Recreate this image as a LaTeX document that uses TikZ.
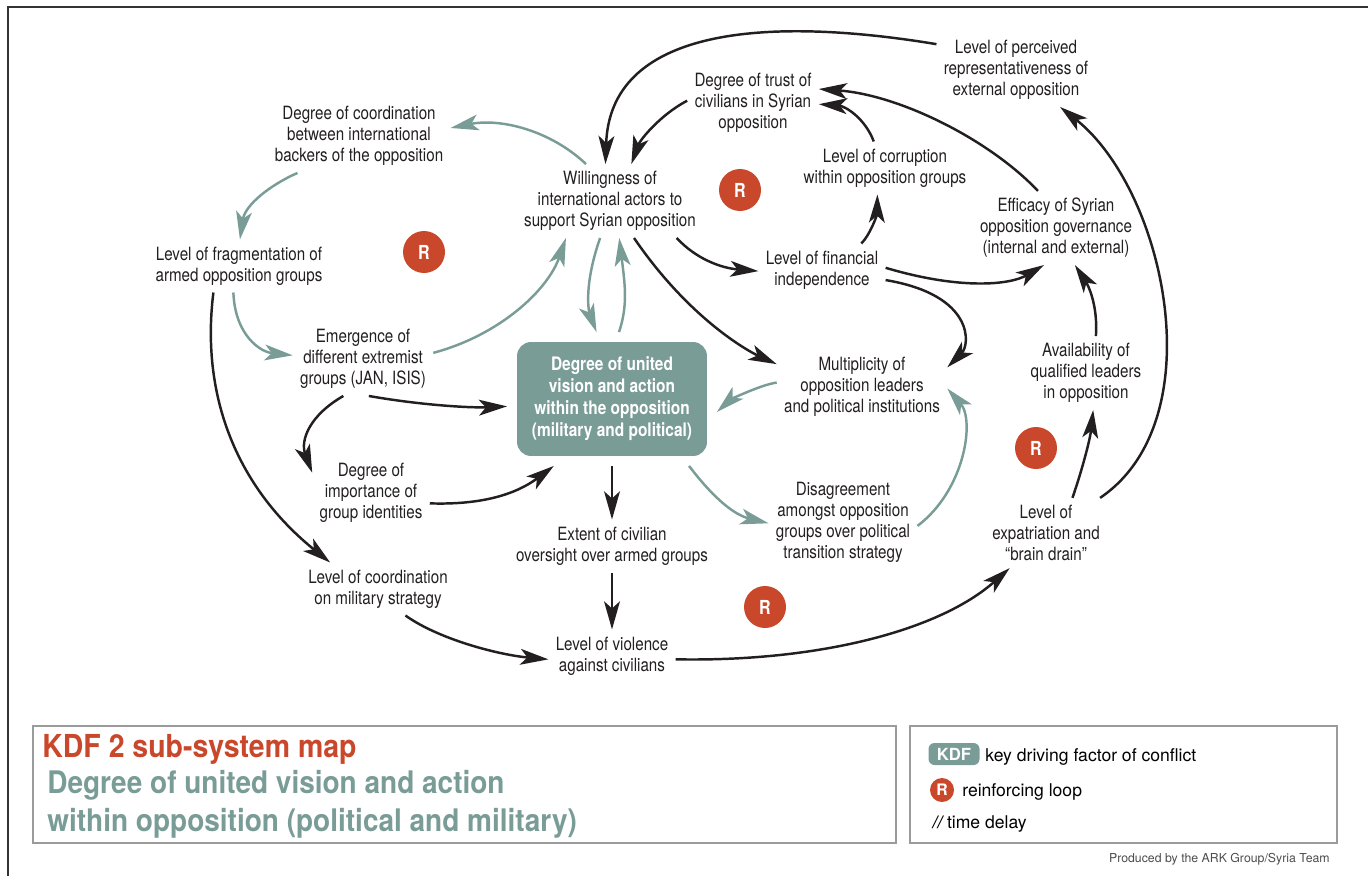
\documentclass[tikz,border=0pt]{standalone}
\usepackage{fontspec}
\setmainfont{TeX Gyre Heros}[FakeStretch=0.83]
\newfontfamily\legendfont{TeX Gyre Heros}
\newfontfamily\titlefont{TeX Gyre Heros}[FakeStretch=0.9]
\usetikzlibrary{arrows.meta}
\definecolor{kdfteal}{HTML}{7A9C97}
\definecolor{loopred}{HTML}{C9472A}
\definecolor{arrowblack}{HTML}{231F20}
\definecolor{framegray}{HTML}{9B9B9B}

\begin{document}
\begin{tikzpicture}[x=0.02cm,y=-0.02cm,
  fac/.style={align=center,inner sep=4pt,text=arrowblack,font=\fontsize{10.4}{11.9}\selectfont},
  kdfbox/.style={rounded corners=0.28cm,fill=kdfteal,text=white,align=center,minimum width=3.8cm,minimum height=2.28cm,outer sep=0.2cm,font=\bfseries\fontsize{10.6}{12.5}\selectfont},
  rloop/.style={circle,fill=loopred,text=white,minimum size=0.84cm,inner sep=0pt,font=\bfseries\fontsize{11}{11}\selectfont},
  blackarr/.style={draw=arrowblack,line width=1.4pt,-{Stealth[length=16pt,width=9pt,inset=4pt]}},
  tealarr/.style={draw=kdfteal,line width=1.4pt,-{Stealth[length=16pt,width=9pt,inset=4pt]}}]

\useasboundingbox (0,0) rectangle (1368,876);
\draw[line width=1.1pt,black!80] (8,876) -- (8,7) -- (1368,7);

\node[fac] (coord) at (359,136) {Degree of coordination\\between international\\backers of the opposition};
\node[fac] (frag) at (239,266) {Level of fragmentation of\\armed opposition groups};
\node[fac] (will) at (610,201) {Willingness of\\international actors to\\support Syrian opposition};
\node[fac] (trust) at (753,103) {Degree of trust of\\civilians in Syrian\\opposition};
\node[fac] (corr) at (885,168) {Level of corruption\\within opposition groups};
\node[fac] (percv) at (1016,70) {Level of perceived\\representativeness of\\external opposition};
\node[fac] (effic) at (1056,228) {Efficacy of Syrian\\opposition governance\\(internal and external)};
\node[fac] (fin) at (822,270) {Level of financial\\independence};
\node[fac] (emerg) at (363,359) {Emergence of\\different extremist\\groups (JAN, ISIS)};
\node[kdfbox] (kdf) at (612,399) {Degree of united\\vision and action\\within the opposition\\(military and political)};
\node[fac] (mult) at (862,387) {Multiplicity of\\opposition leaders\\and political institutions};
\node[fac] (avail) at (1086,373) {Availability of\\qualified leaders\\in opposition};
\node[fac] (ident) at (371,493) {Degree of\\importance of\\group identities};
\node[fac] (ext) at (612,546) {Extent of civilian\\oversight over armed groups};
\node[fac] (disag) at (843,522) {Disagreement\\amongst opposition\\groups over political\\transition strategy};
\node[fac] (expat) at (1046,533) {Level of\\expatriation and\\``brain drain''};
\node[fac] (milit) at (378,589) {Level of coordination\\on military strategy};
\node[fac] (viol) at (612,656) {Level of violence\\against civilians};

\node[rloop] (r1) at (424,252) {R};
\node[rloop] (r2) at (740,190) {R};
\node[rloop] (r3) at (1036,448) {R};
\node[rloop] (r4) at (765,607) {R};

\draw[tealarr] (will.123) .. controls (550,130) and (500,118) .. (coord.5);
\draw[tealarr] (coord.211) .. controls (270,185) and (245,205) .. (frag.88);
\draw[tealarr] (frag.258) .. controls (235,335) and (260,352) .. (emerg.177);
\draw[tealarr] (emerg.5) .. controls (500,335) and (548,290) .. (will.220);
\draw[tealarr] (will.255) .. controls (582,290) and (590,315) .. (kdf.103);
\draw[tealarr] (kdf.84) .. controls (628,305) and (625,285) .. (will.284);
\draw[blackarr] (trust.178) .. controls (660,115) and (640,140) .. (will.60);
\draw[blackarr] (percv.162) .. controls (760,15) and (610,30) .. (will.97);
\draw[blackarr] (will.331) .. controls (695,258) and (720,268) .. (fin.181);
\draw[blackarr] (fin.34) .. controls (870,235) and (877,215) .. (corr.254);
\draw[blackarr] (corr.113) .. controls (865,118) and (845,106) .. (trust.359);
\draw[blackarr] (effic.116) .. controls (990,140) and (900,95) .. (trust.12);
\draw[blackarr] (fin.2) .. controls (960,290) and (1010,285) .. (effic.252);
\draw[blackarr] (fin.351) .. controls (975,295) and (970,345) .. (mult.13);
\draw[blackarr] (will.303) .. controls (690,320) and (750,352) .. (mult.165);
\draw[tealarr] (mult.177) .. controls (760,385) and (730,400) .. (kdf.353);
\draw[blackarr] (avail.75) .. controls (1098,305) and (1088,285) .. (effic.297);
\draw[blackarr] (expat.53) .. controls (1082,470) and (1090,440) .. (avail.281);
\draw[blackarr] (expat.33) .. controls (1215,420) and (1165,190) .. (percv.320);
\draw[blackarr] (viol.357) .. controls (820,662) and (940,630) .. (expat.224);
\draw[blackarr] (milit.316) .. controls (440,640) and (500,655) .. (viol.183);
\draw[blackarr] (frag.226) .. controls (200,400) and (240,490) .. (milit.151);
\draw[blackarr] (emerg.242) .. controls (310,415) and (300,440) .. (ident.161);
\draw[blackarr] (emerg.279) .. controls (420,405) and (470,408) .. (kdf.184);
\draw[blackarr] (ident.350) .. controls (480,505) and (515,495) .. (kdf.229);
\draw[blackarr] (kdf) -- (ext);
\draw[blackarr] (ext) -- (viol);
\draw[tealarr] (kdf.319) .. controls (715,500) and (735,515) .. (disag.181);
\draw[tealarr] (disag.357) .. controls (965,490) and (975,420) .. (mult.359);

\draw[framegray,line width=1.1pt] (33,726) rectangle (896,843);
\draw[framegray,line width=1.1pt] (910,726) rectangle (1337,843);
\node[anchor=base west,inner sep=0pt,text=loopred,font=\titlefont\bfseries\fontsize{18}{18}\selectfont] (title) at (42,757) {KDF 2 sub-system map};
\node[anchor=base west,inner sep=0pt,text=kdfteal,font=\titlefont\bfseries\fontsize{17.7}{17.7}\selectfont] (sub1) at (47,793) {Degree of united vision and action};
\node[anchor=base west,inner sep=0pt,text=kdfteal,font=\titlefont\bfseries\fontsize{17.7}{17.7}\selectfont] (sub2) at (47,831) {within opposition (political and military)};

\node[fill=kdfteal,rounded corners=0.12cm,text=white,inner sep=0pt,minimum width=1.02cm,minimum height=0.44cm,font=\legendfont\bfseries\fontsize{9.5}{9.5}\selectfont] (kdfkey) at (954,754) {KDF};
\node[anchor=base west,inner sep=0pt,font=\legendfont\fontsize{10}{10}\selectfont] (kdftext) at (985,761) {key driving factor of conflict};
\node[rloop,minimum size=0.48cm,font=\legendfont\bfseries\fontsize{9}{9}\selectfont] (rkey) at (942,790) {R};
\node[anchor=base west,inner sep=0pt,font=\legendfont\fontsize{10}{10}\selectfont] (rtext) at (962,796) {reinforcing loop};
\node[anchor=base west,inner sep=0pt,font=\legendfont\fontsize{10}{10}\selectfont] (delay) at (932,828) {{\bfseries\itshape //} time delay};
\node[anchor=base east,inner sep=0pt,text=black!70,font=\legendfont\fontsize{7}{7}\selectfont] (credit) at (1330,862) {Produced by the ARK Group/Syria Team};

\end{tikzpicture}
\end{document}
